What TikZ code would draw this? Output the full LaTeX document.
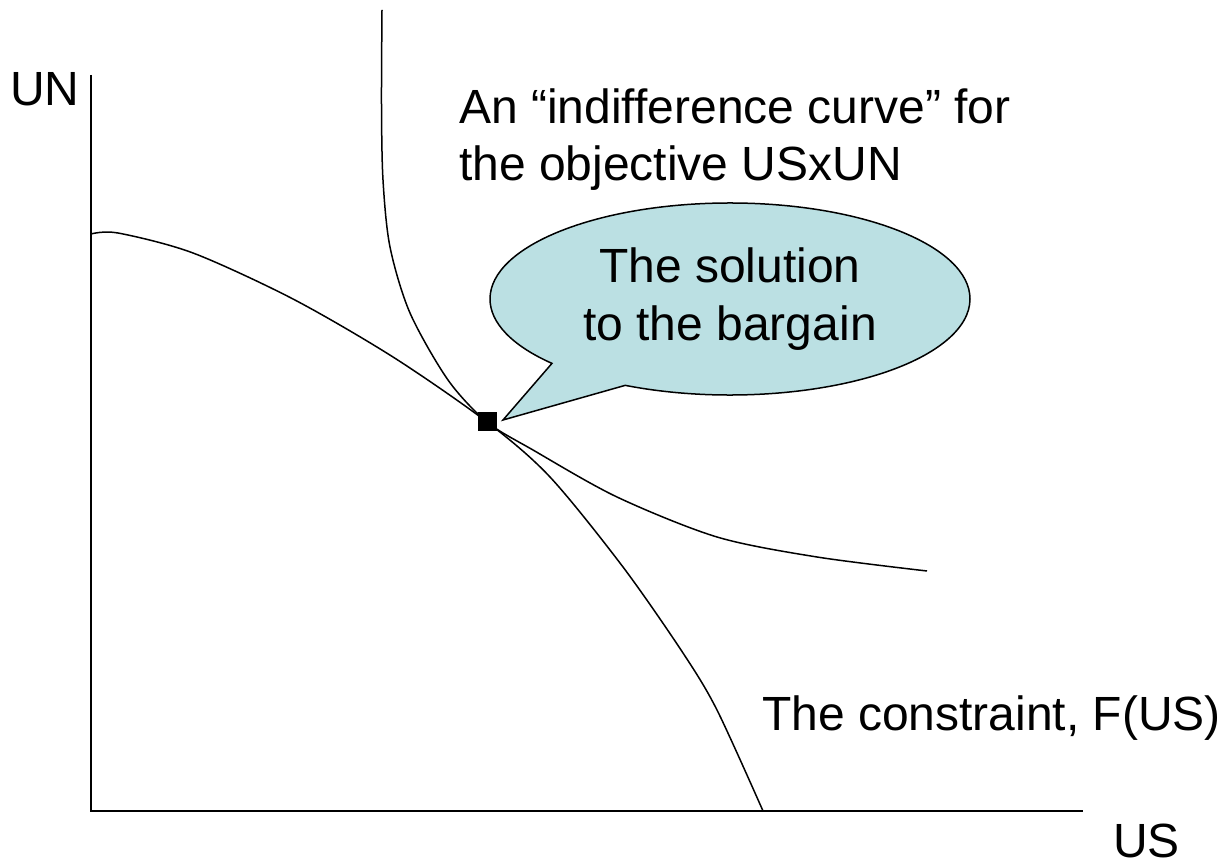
\documentclass[tikz,border=0pt]{standalone}
\usepackage{fontspec}
\setmainfont{Liberation Sans}
\usetikzlibrary{shapes.callouts}
\definecolor{calloutfill}{RGB}{187,224,227}
\begin{document}
\begin{tikzpicture}[x=1pt,y=1pt,
  lbl/.style={inner sep=0pt, font=\fontsize{48}{58}\selectfont},
  axisline/.style={line width=2pt},
  crv/.style={line width=1.5pt},
  bubble/.style={ellipse callout, draw=black, line width=1.5pt, fill=calloutfill,
    minimum width=480pt, minimum height=192pt, inner sep=0pt,
    callout pointer arc=22, align=center, font=\fontsize{48}{58}\selectfont},
  dot/.style={fill=black, draw=none, minimum size=19pt, inner sep=0pt}]
\useasboundingbox (0,0) rectangle (1226,865);
% axes
\coordinate (origin) at (91,54);
\coordinate (ytop) at (91,790);
\coordinate (xend) at (1083,54);
\draw[axisline] (ytop) -- (origin) -- (xend);
% constraint
\draw[crv] plot[smooth, tension=0.5] coordinates {(91,631) (118,632) (193,612) (293,566) (393,508) (487,443) (550,388) (623,298) (683,212) (717,155) (763,54)};
% indifference curve
\draw[crv] plot[smooth, tension=0.5] coordinates {(382,855) (381.5,760) (383,685) (390,618) (410,552) (448,485) (487,443) (533,415) (617,368) (717,328) (817,308) (927,294)};
% solution point
\node[dot] (sq) at (487,443) {};
\coordinate (tip) at (503,445);
\node[bubble, callout absolute pointer={(tip)}] (sol) at (730,566) {The solution\\to the bargain};
% labels
\node[lbl, anchor=base west] (un) at (10,759) {UN};
\node[lbl, anchor=base west] (ic1) at (459,741) {An “indifference curve” for};
\node[lbl, anchor=base west] (ic2) at (459,684) {the objective USxUN};
\node[lbl, anchor=base west] (con) at (762,134) {The constraint, F(US)};
\node[lbl, anchor=base west] (us) at (1113,8) {US};
\end{tikzpicture}
\end{document}
